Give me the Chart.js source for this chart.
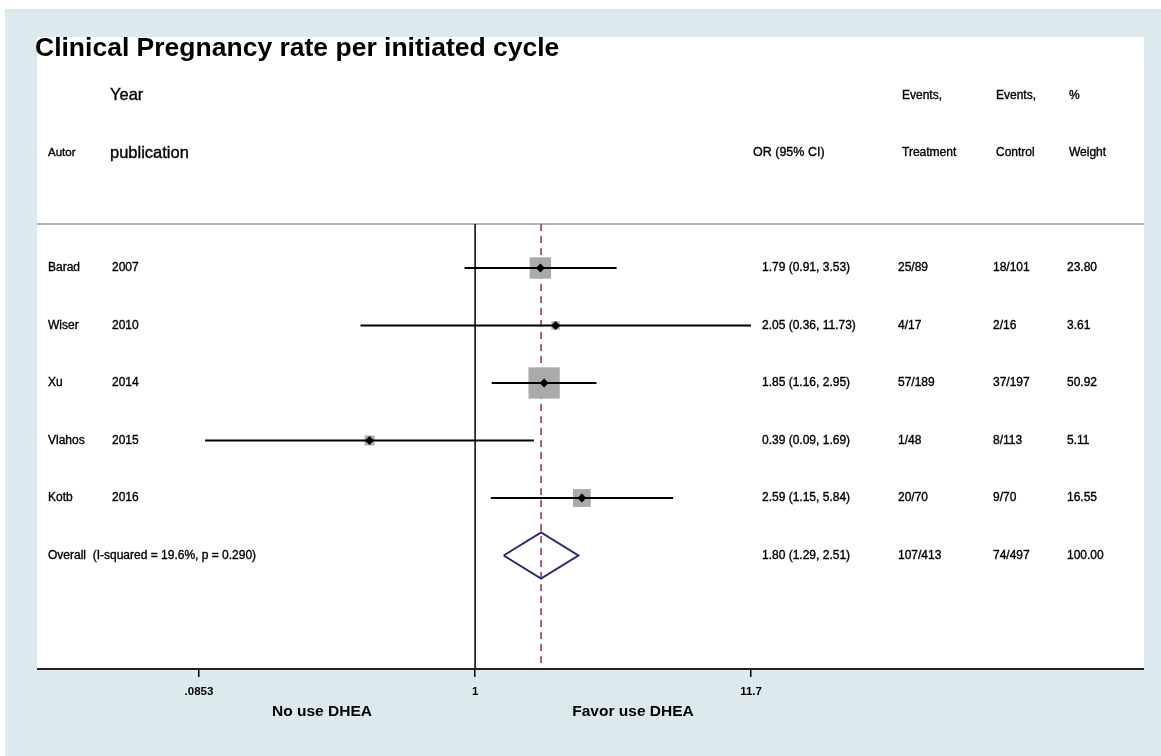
<!DOCTYPE html>
<html>
<head>
<meta charset="utf-8">
<script src="https://cdn.jsdelivr.net/npm/chart.js@4"></script>
<style>
  html, body { margin: 0; padding: 0; background: #ffffff; }
  #wrap { width: 1161px; height: 756px; }
</style>
</head>
<body>
<div id="wrap"><canvas id="c" width="1161" height="756"></canvas></div>
<script>
// ---------- data ----------
const studies = ['Barad', 'Wiser', 'Xu', 'Vlahos', 'Kotb'];
const years = ['2007', '2010', '2014', '2015', '2016'];
const orValues = [1.79, 2.05, 1.85, 0.39, 2.59];
const ciLower = [0.91, 0.36, 1.16, 0.09, 1.15];
const ciUpper = [3.53, 11.73, 2.95, 1.69, 5.84];
const eventsTreatment = ['25/89', '4/17', '57/189', '1/48', '20/70'];
const eventsControl = ['18/101', '2/16', '37/197', '8/113', '9/70'];
const weights = [23.80, 3.61, 50.92, 5.11, 16.55];

const overallLabel = 'Overall  (I-squared = 19.6%, p = 0.290)';
const overallOR = 1.80;
const overallLower = 1.29;
const overallUpper = 2.51;
const overallTreatment = '107/413';
const overallControl = '74/497';
const overallWeight = 100.00;

const tickValues = [0.0853, 1, 11.7];
const tickLabels = ['.0853', '1', '11.7'];

const titleText = 'Clinical Pregnancy rate per initiated cycle';
const leftAxisLabel = 'No use DHEA';
const rightAxisLabel = 'Favor use DHEA';

// ---------- layout / style ----------
const X_MIN = 0.0853, X_MAX = 11.7;      // Stata axis range
const Y_MIN = 0.235, Y_MAX = 7.974;      // row scale bounds
const rowIdx = studies.map((_, i) => i + 1);
const overallRow = studies.length + 1;
const DIAMOND_HALF = 0.4;                // rows
const SQUARE_K = 3.1;                    // radius per sqrt(weight)

const FONT = '"Liberation Sans", Arial, Helvetica, sans-serif';
const BG = '#ddeaed';

const fmt2 = v => v.toFixed(2);
const orText = (o, l, h) => `${fmt2(o)} (${fmt2(l)}, ${fmt2(h)})`;

const ciDatasets = studies.map((s, i) => ({
  label: s + ' CI',
  data: [{ x: ciLower[i], y: rowIdx[i] }, { x: ciUpper[i], y: rowIdx[i] }],
  showLine: true, borderColor: '#000', borderWidth: 2, pointRadius: 0, order: 1
}));

function txt(ctx, s, x, y) {
  ctx.fillText(s, x, y);
  ctx.strokeText(s, x, y);
}

const bgPlugin = {
  id: 'bg',
  beforeDraw(chart) {
    const ctx = chart.ctx;
    ctx.save();
    ctx.fillStyle = '#ffffff';
    ctx.fillRect(0, 0, chart.width, chart.height);
    ctx.fillStyle = BG;
    ctx.fillRect(5, 9, chart.width - 5, chart.height - 9);
    ctx.fillStyle = '#ffffff';
    ctx.fillRect(37, 37, 1144 - 37, chart.chartArea.bottom - 37);
    // header separator
    ctx.strokeStyle = '#9a9a9a';
    ctx.lineWidth = 1.5;
    ctx.beginPath();
    ctx.moveTo(37, chart.chartArea.top);
    ctx.lineTo(1144, chart.chartArea.top);
    ctx.stroke();
    ctx.restore();
  },
  afterDraw(chart) {
    const ctx = chart.ctx;
    const ys = chart.scales.y;
    const ca = chart.chartArea;
    ctx.save();
    // extended axis line
    ctx.strokeStyle = '#222';
    ctx.lineWidth = 2;
    ctx.beginPath();
    ctx.moveTo(37, ca.bottom);
    ctx.lineTo(1144, ca.bottom);
    ctx.stroke();

    ctx.fillStyle = '#000';
    ctx.strokeStyle = '#000';
    ctx.lineWidth = 0.35;
    ctx.textBaseline = 'middle';
    ctx.textAlign = 'left';
    // title
    ctx.font = 'bold 26.5px ' + FONT;
    ctx.fillText(titleText, 35, 49);

    // header rows
    const yH1 = ys.getPixelForValue(-2);
    const yH2 = ys.getPixelForValue(-1);
    ctx.font = '16.5px ' + FONT;
    txt(ctx, 'Year', 110, yH1);
    txt(ctx, 'publication', 110, yH2);
    ctx.font = '11.5px ' + FONT;
    txt(ctx, 'Autor', 48, yH2);
    ctx.font = '12.5px ' + FONT;
    txt(ctx, 'OR (95% CI)', 753, yH2);
    ctx.font = '12px ' + FONT;
    txt(ctx, 'Events,', 902, yH1);
    txt(ctx, 'Treatment', 902, yH2);
    txt(ctx, 'Events,', 996, yH1);
    txt(ctx, 'Control', 996, yH2);
    txt(ctx, '%', 1069, yH1);
    txt(ctx, 'Weight', 1069, yH2);

    // study rows
    ctx.font = '12px ' + FONT;
    studies.forEach((s, i) => {
      const y = ys.getPixelForValue(rowIdx[i]);
      txt(ctx, s, 48, y);
      txt(ctx, years[i], 112, y);
      txt(ctx, orText(orValues[i], ciLower[i], ciUpper[i]), 762, y);
      txt(ctx, eventsTreatment[i], 898, y);
      txt(ctx, eventsControl[i], 993, y);
      txt(ctx, fmt2(weights[i]), 1067, y);
    });
    const yo = ys.getPixelForValue(overallRow);
    txt(ctx, overallLabel, 48, yo);
    txt(ctx, orText(overallOR, overallLower, overallUpper), 762, yo);
    txt(ctx, overallTreatment, 898, yo);
    txt(ctx, overallControl, 993, yo);
    txt(ctx, fmt2(overallWeight), 1067, yo);

    // axis side labels
    ctx.font = 'bold 15.5px ' + FONT;
    ctx.textAlign = 'center';
    ctx.fillText(leftAxisLabel, 322, 712);
    ctx.fillText(rightAxisLabel, 633, 712);
    ctx.restore();
  }
};

new Chart(document.getElementById('c'), {
  type: 'scatter',
  data: {
    datasets: [
      // point estimate markers (top)
      {
        label: 'OR',
        data: studies.map((s, i) => ({ x: orValues[i], y: rowIdx[i] })),
        pointStyle: 'rectRot', pointRadius: 4.5, backgroundColor: '#000',
        borderColor: '#000', borderWidth: 0, order: 0
      },
      ...ciDatasets,
      // overall diamond
      {
        label: 'Overall',
        data: [
          { x: overallLower, y: overallRow },
          { x: overallOR, y: overallRow - DIAMOND_HALF },
          { x: overallUpper, y: overallRow },
          { x: overallOR, y: overallRow + DIAMOND_HALF },
          { x: overallLower, y: overallRow }
        ],
        showLine: true, borderColor: '#262a7c', borderWidth: 2, pointRadius: 0,
        fill: false, order: 1
      },
      // weight squares
      {
        label: 'Weight',
        data: studies.map((s, i) => ({ x: orValues[i], y: rowIdx[i] })),
        pointStyle: 'rect',
        pointRadius: weights.map(w => SQUARE_K * Math.sqrt(w)),
        backgroundColor: '#aaaaaa', borderWidth: 0, order: 2
      },
      // null line
      {
        label: 'No effect',
        data: [{ x: 1, y: Y_MIN }, { x: 1, y: Y_MAX }],
        showLine: true, borderColor: '#000', borderWidth: 1.5, pointRadius: 0, order: 3
      },
      // overall effect dashed line
      {
        label: 'Overall effect',
        data: [{ x: overallOR, y: Y_MIN }, { x: overallOR, y: Y_MAX }],
        showLine: true, borderColor: '#a23b48', borderWidth: 1.6, borderDash: [7, 5],
        pointRadius: 0, order: 3
      }
    ]
  },
  options: {
    responsive: false,
    devicePixelRatio: 1,
    animation: false,
    events: [],
    layout: { padding: { left: 199, right: 410, top: 224, bottom: 0 } },
    plugins: { legend: { display: false }, tooltip: { enabled: false }, title: { display: false } },
    scales: {
      x: {
        type: 'logarithmic',
        min: X_MIN, max: X_MAX,
        bounds: 'data',
        position: 'bottom',
        afterBuildTicks: s => { s.ticks = tickValues.map(v => ({ value: v })); },
        afterFit: s => { s.height = 87; },
        ticks: {
          autoSkip: false, maxRotation: 0, minRotation: 0, padding: 8,
          color: '#000', font: { family: FONT, size: 11.5, weight: 'bold' },
          callback: (v, i) => tickLabels[i]
        },
        grid: { drawOnChartArea: false, drawTicks: true, tickLength: 8, color: '#000', lineWidth: 1.5 },
        border: { display: true, color: '#222', width: 2 }
      },
      y: {
        type: 'linear', reverse: true, min: Y_MIN, max: Y_MAX, display: false
      }
    }
  },
  plugins: [bgPlugin]
});
</script>
</body>
</html>
